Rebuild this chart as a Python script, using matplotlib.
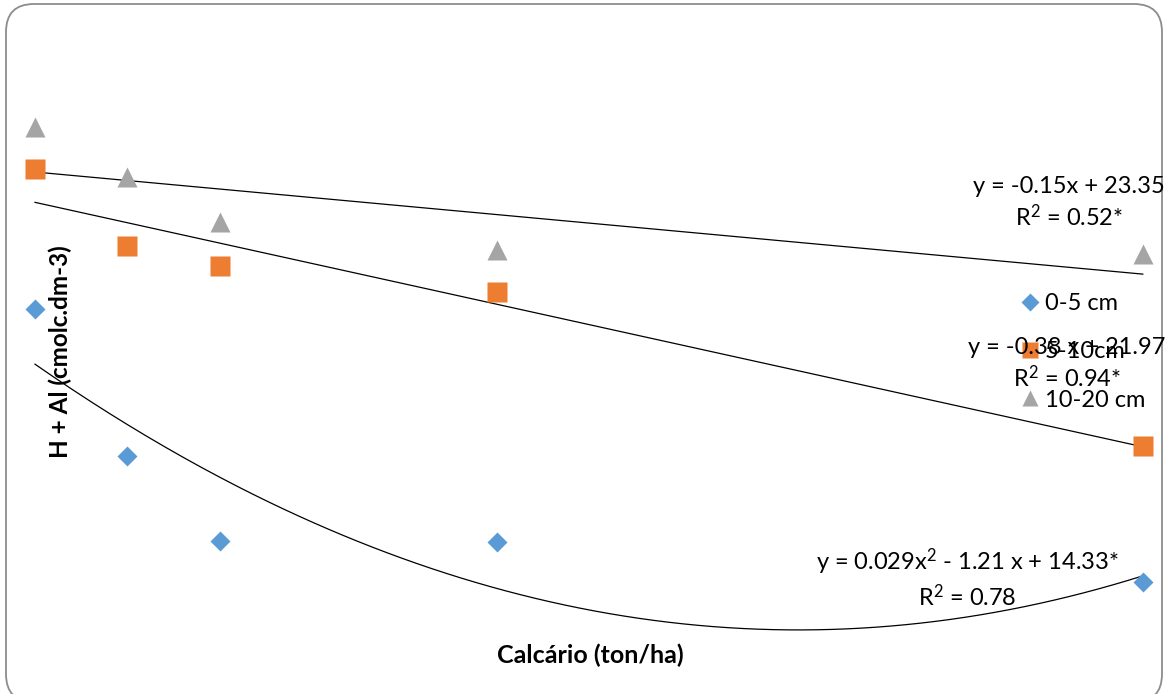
import numpy as np
import matplotlib
matplotlib.use("Agg")
import matplotlib.pyplot as plt
from matplotlib.patches import FancyBboxPatch
from matplotlib.lines import Line2D
from matplotlib.transforms import IdentityTransform

plt.rcParams['font.family'] = ['Lato', 'DejaVu Sans']
plt.rcParams['mathtext.fontset'] = 'custom'
plt.rcParams['mathtext.rm'] = 'Lato'
plt.rcParams['mathtext.it'] = 'Lato:italic'
plt.rcParams['mathtext.bf'] = 'Lato:bold'

# Data
calcario = [0, 2.5, 5, 12.5, 30]
prof_0_5 = [16.15, 9.57, 5.77, 5.73, 3.94]
prof_5_10 = [22.42, 18.97, 18.08, 16.91, 10.02]
prof_10_20 = [24.30, 22.06, 20.04, 18.79, 18.61]
labels = ["0-5 cm", "5-10cm", "10-20 cm"]
eq_texts = [r"y = -0.15x + 23.35" + "\n" + r"R$^{\mathrm{2}}$ = 0.52*",
            r"y = -0.38 x + 21.97" + "\n" + r"R$^{\mathrm{2}}$ = 0.94*",
            r"y = 0.029x$^{\mathrm{2}}$ - 1.21 x + 14.33*" + "\n" + r"R$^{\mathrm{2}}$ = 0.78"]

W, H = 1169, 694
fig = plt.figure(figsize=(W / 100, H / 100), dpi=100)
ax = fig.add_axes([0, 0, 1, 1])
ax.set_xlim(-0.948, 30.71)
ax.set_ylim(-1.074, 29.98)
ax.axis('off')

# rounded border (display pixels, origin bottom-left)
border = FancyBboxPatch((6, -8), 1162 - 6, H - 4 + 8,
                        boxstyle="round,pad=0,rounding_size=28",
                        transform=IdentityTransform(), fill=False,
                        edgecolor='#8c8c8c', linewidth=1.3)
fig.patches.append(border)

x = np.array(calcario)
xs = np.linspace(0, 30, 300)
# trendlines
c1 = np.polyfit(x, prof_10_20, 1)
c2 = np.polyfit(x, prof_5_10, 1)
c3 = np.polyfit(x, prof_0_5, 2)
for c in (c1, c2, c3):
    ax.plot(xs, np.polyval(c, xs), color='black', lw=0.9, zorder=2)

blue, orange, gray = '#5B9BD5', '#ED7D31', '#A5A5A5'
ax.plot(x, prof_0_5, 'D', color=blue, ms=10.5, mec='none', zorder=3)
ax.plot(x, prof_5_10, 's', color=orange, ms=14.2, mec='none', zorder=3)
ax.plot(x, prof_10_20, '^', color=gray, ms=14, mec='none', zorder=3)

fs = 17
def ftext(px, py, s, **kw):
    fig.text(px / W, 1 - py / H, s, **kw)

ftext(1069, 203, eq_texts[0], ha='center', va='center', fontsize=fs,
      linespacing=1.3, zorder=5)
ftext(1067, 364, eq_texts[1], ha='center', va='center', fontsize=fs,
      linespacing=1.3, zorder=5)
ftext(967, 578, eq_texts[2], ha='center', va='center', fontsize=fs,
      linespacing=1.3, zorder=5)

handles = [Line2D([], [], ls='none', marker='D', color=blue, ms=9.5, mec='none'),
           Line2D([], [], ls='none', marker='s', color=orange, ms=12, mec='none'),
           Line2D([], [], ls='none', marker='^', color=gray, ms=12, mec='none')]
leg = ax.legend(handles, labels, loc='center left',
                bbox_to_anchor=(1021 / W, 1 - 352 / H), frameon=False,
                fontsize=fs, handlelength=0.8, handletextpad=0.2,
                labelspacing=1.15, borderpad=0, borderaxespad=0)
leg.set_zorder(6)

ftext(590, 655, "Calcário (ton/ha)", ha='center', va='center',
      fontsize=18, fontweight='bold')
ftext(60, 352, "H + Al (cmolc.dm-3)", ha='center', va='center',
      fontsize=17.5, fontweight='bold', rotation=90)

fig.savefig("out.png", dpi=100)
